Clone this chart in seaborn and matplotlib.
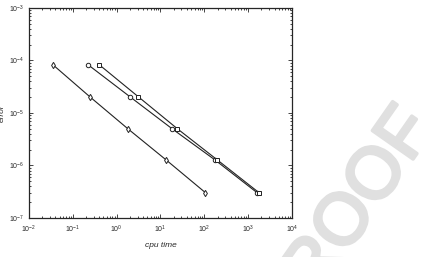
import numpy as np
import pandas as pd
import seaborn as sns
import matplotlib.pyplot as plt
import matplotlib.patheffects as pe

# --- dati ---
cpu_diamond = [0.035, 0.245, 1.8, 13.5, 105]
cpu_circle = [0.222, 2.02, 18.4, 176, 1580]
cpu_square = [0.40, 3.13, 24.3, 199, 1750]
err_values = [8.3e-5, 2.03e-5, 5.0e-6, 1.27e-6, 3.05e-7]

df = pd.concat([
    pd.DataFrame({'cpu': cpu_diamond, 'err': err_values, 'serie': 'A'}),
    pd.DataFrame({'cpu': cpu_circle, 'err': err_values, 'serie': 'B'}),
    pd.DataFrame({'cpu': cpu_square, 'err': err_values, 'serie': 'C'}),
])

sns.set_style("ticks")
plt.rcParams['font.family'] = ['Liberation Sans', 'DejaVu Sans']

fig = plt.figure(figsize=(4.29, 2.57), dpi=100)

# watermark
fig.text(0.807, 0.135, 'PROOF', rotation=55, fontsize=52,
         color='#e0e0e0', ha='center', va='center', zorder=0,
         path_effects=[pe.withStroke(linewidth=2.5, foreground='#e0e0e0')])

ax = fig.add_axes([0.0676, 0.152, 0.613, 0.817])
ax.set_facecolor('none')

sns.lineplot(data=df, x='cpu', y='err', style='serie', markers=['d', 'o', 's'],
             dashes=False, color='#222222', linewidth=0.8, markersize=3.2,
             markerfacecolor='white', markeredgecolor='#222222', markeredgewidth=0.7,
             legend=False, ax=ax)

ax.set_xscale('log')
ax.set_yscale('log')
ax.set_xlim(1e-2, 1e4)
ax.set_ylim(1e-7, 1e-3)

ax.tick_params(which='both', direction='in', top=True, right=True, labelsize=5, width=0.6)
ax.tick_params(which='major', length=3)
ax.tick_params(which='minor', length=1.5)
ax.tick_params(axis='x', pad=4)
for s in ax.spines.values():
    s.set_linewidth(0.9)

ax.set_xlabel('cpu time', fontsize=6, fontstyle='italic', labelpad=5)
ax.set_ylabel('error', fontsize=6, fontstyle='italic', labelpad=2)

plt.savefig('out.png', dpi=100)
